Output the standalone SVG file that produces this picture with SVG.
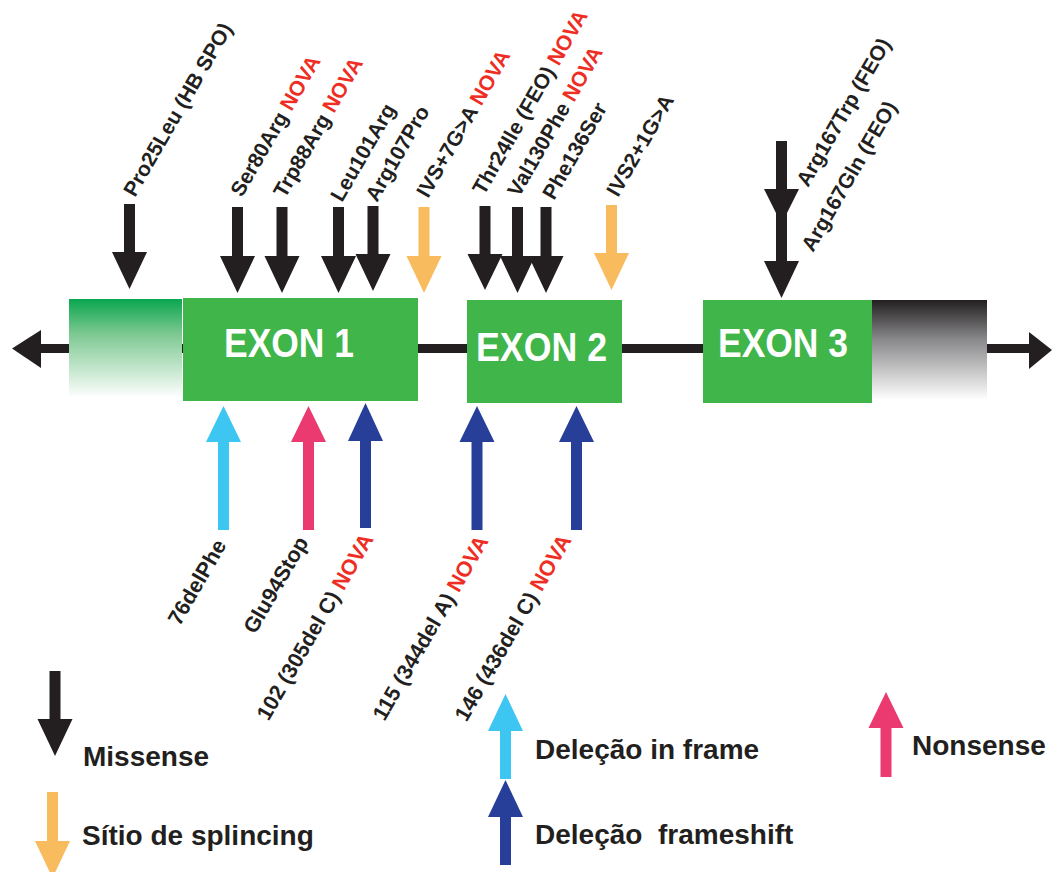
<svg xmlns="http://www.w3.org/2000/svg" width="1052" height="872" viewBox="0 0 1052 872">
<defs>
<linearGradient id="gGreen" x1="0" y1="0" x2="0" y2="1">
<stop offset="0" stop-color="#0aa64f"/>
<stop offset="0.35" stop-color="#7cc891"/>
<stop offset="1" stop-color="#ffffff"/>
</linearGradient>
<linearGradient id="gDark" x1="0" y1="0" x2="0" y2="1">
<stop offset="0" stop-color="#231f20"/>
<stop offset="0.4" stop-color="#8a8a8c"/>
<stop offset="1" stop-color="#ffffff"/>
</linearGradient>
<style>
.exon{fill:#3fb54a}
.ex{font-family:"Liberation Sans",Arial,sans-serif;font-weight:bold;font-size:41px;fill:#ffffff}
.lbl{font-family:"Liberation Sans",Arial,sans-serif;font-weight:bold;font-size:21px;fill:#231f20}
.lblb{font-family:"Liberation Sans",Arial,sans-serif;font-weight:bold;font-size:21.5px;fill:#231f20}
.nova{fill:#ee2e24}
.leg{font-family:"Liberation Sans",Arial,sans-serif;font-weight:bold;font-size:28px;fill:#231f20}
.mis{fill:#231f20}
.spl{fill:#f8bb5e}
.inf{fill:#3dc6f2}
.non{fill:#ea3a70}
.fs{fill:#273f99}
.bb{stroke:#231f20;stroke-width:9;fill:none}
</style>
</defs>

<g id="connectors">
<line class="bb" x1="38" y1="348.5" x2="1032" y2="348.5"/>
<polygon class="mis" points="12,348.5 41,330 41,368"/>
<polygon class="mis" points="1052,350 1029,332 1029,369"/>
</g>

<g id="utr5"><rect x="69" y="299" width="113" height="99" fill="url(#gGreen)"/></g>
<g id="utr3"><rect x="872" y="300" width="115" height="100" fill="url(#gDark)"/></g>

<g id="exon1"><rect class="exon" x="183" y="298" width="235" height="103"/><text class="ex" x="224" y="357" textLength="130" lengthAdjust="spacingAndGlyphs">EXON 1</text></g>
<g id="exon2"><rect class="exon" x="467" y="300" width="155" height="103"/><text class="ex" x="476" y="361" textLength="131" lengthAdjust="spacingAndGlyphs">EXON 2</text></g>
<g id="exon3"><rect class="exon" x="703" y="300" width="169" height="103"/><text class="ex" x="718" y="357" textLength="130" lengthAdjust="spacingAndGlyphs">EXON 3</text></g>

<!-- top mutations -->
<g id="m-pro25leu"><polygon class="mis" points="124,204 135,204 135,252 147,252 129.5,289 112,252 124,252"/><text class="lbl" transform="translate(135,198) rotate(-60)">Pro25Leu (HB SPO)</text></g>
<g id="m-ser80arg"><polygon class="mis" points="232,207 243,207 243,256 255,256 237.5,293 220,256 232,256"/><text class="lbl" transform="translate(242,198) rotate(-60)">Ser80Arg <tspan class="nova">NOVA</tspan></text></g>
<g id="m-trp88arg"><polygon class="mis" points="276.5,207 287.5,207 287.5,256 299.5,256 282,293 264.5,256 276.5,256"/><text class="lbl" transform="translate(285,199) rotate(-60)">Trp88Arg <tspan class="nova">NOVA</tspan></text></g>
<g id="m-leu101arg"><polygon class="mis" points="333,207 344,207 344,256 356,256 338.5,293 321,256 333,256"/><text class="lbl" transform="translate(342,203) rotate(-60)">Leu101Arg</text></g>
<g id="m-arg107pro"><polygon class="mis" points="367.5,206 378.5,206 378.5,254 390.5,254 373,291 355.5,254 367.5,254"/><text class="lbl" transform="translate(377,203) rotate(-60)">Arg107Pro</text></g>
<g id="m-ivs7"><polygon class="spl" points="418.5,207 429.5,207 429.5,256 441.5,256 424,293 406.5,256 418.5,256"/><text class="lbl" transform="translate(428,199) rotate(-60)">IVS+7G&gt;A <tspan class="nova">NOVA</tspan></text></g>
<g id="m-thr24ile"><polygon class="mis" points="479.5,206 490.5,206 490.5,254 502.5,254 485,290 467.5,254 479.5,254"/><text class="lbl" transform="translate(484,196) rotate(-60)">Thr24Ile (FEO) <tspan class="nova">NOVA</tspan></text></g>
<g id="m-val130phe"><polygon class="mis" points="512,207 523,207 523,256 535,256 517.5,293 500,256 512,256"/><text class="lbl" transform="translate(519,198) rotate(-60)">Val130Phe <tspan class="nova">NOVA</tspan></text></g>
<g id="m-phe136ser"><polygon class="mis" points="540.5,207 551.5,207 551.5,256 563.5,256 546,293 528.5,256 540.5,256"/><text class="lbl" transform="translate(554,201) rotate(-60)">Phe136Ser</text></g>
<g id="m-ivs2"><polygon class="spl" points="606,205 617,205 617,253 629,253 611.5,290 594,253 606,253"/><text class="lbl" transform="translate(618,198) rotate(-60)">IVS2+1G&gt;A</text></g>
<g id="m-arg167"><polygon class="mis" points="776,141 787,141 787,189 799,189 787,213 787,261 799,261 781.5,298 764,261 776,261 776,213 764,189 776,189"/><text class="lbl" transform="translate(808,188) rotate(-60)">Arg167Trp (FEO)</text><text class="lbl" transform="translate(813,253) rotate(-60)">Arg167Gln (FEO)</text></g>

<!-- bottom mutations -->
<g id="m-76delphe"><polygon class="inf" points="218,530 229,530 229,442 241,442 223.5,406 206,442 218,442"/><text class="lblb" text-anchor="end" transform="translate(227,545) rotate(-60)">76delPhe</text></g>
<g id="m-glu94stop"><polygon class="non" points="303,530 314,530 314,442 326,442 308.5,406 291,442 303,442"/><text class="lblb" text-anchor="end" transform="translate(309,542) rotate(-60)">Glu94Stop</text></g>
<g id="m-102"><polygon class="fs" points="360,528 371,528 371,441 383,441 365.5,403 348,441 360,441"/><text class="lblb" text-anchor="end" transform="translate(374,539) rotate(-60)">102 (305del C) <tspan class="nova">NOVA</tspan></text></g>
<g id="m-115"><polygon class="fs" points="471.5,530 482.5,530 482.5,442 494.5,442 477,406 459.5,442 471.5,442"/><text class="lblb" text-anchor="end" transform="translate(489,541) rotate(-60)">115 (344del A) <tspan class="nova">NOVA</tspan></text></g>
<g id="m-146"><polygon class="fs" points="571,530 582,530 582,442 594,442 576.5,406 559,442 571,442"/><text class="lblb" text-anchor="end" transform="translate(572,540) rotate(-60)">146 (436del C) <tspan class="nova">NOVA</tspan></text></g>

<!-- legend -->
<g id="leg-missense"><polygon class="mis" points="49.5,671 60.5,671 60.5,719 72.5,719 55,756 37.5,719 49.5,719"/><text class="leg" x="83" y="766">Missense</text></g>
<g id="leg-splicing"><polygon class="spl" points="47,792 58,792 58,841 70,841 52.5,878 35,841 47,841"/><text class="leg" x="82" y="845">Sítio de splincing</text></g>
<g id="leg-inframe"><polygon class="inf" points="500,779 511,779 511,731 523,731 505.5,694 488,731 500,731"/><text class="leg" x="535" y="759">Deleção in frame</text></g>
<g id="leg-frameshift"><polygon class="fs" points="500,865 511,865 511,817 523,817 505.5,780 488,817 500,817"/><text class="leg" x="535" y="844" xml:space="preserve">Deleção  frameshift</text></g>
<g id="leg-nonsense"><polygon class="non" points="880.5,777 891.5,777 891.5,728 903.5,728 886,692 868.5,728 880.5,728"/><text class="leg" x="912" y="755">Nonsense</text></g>
</svg>
